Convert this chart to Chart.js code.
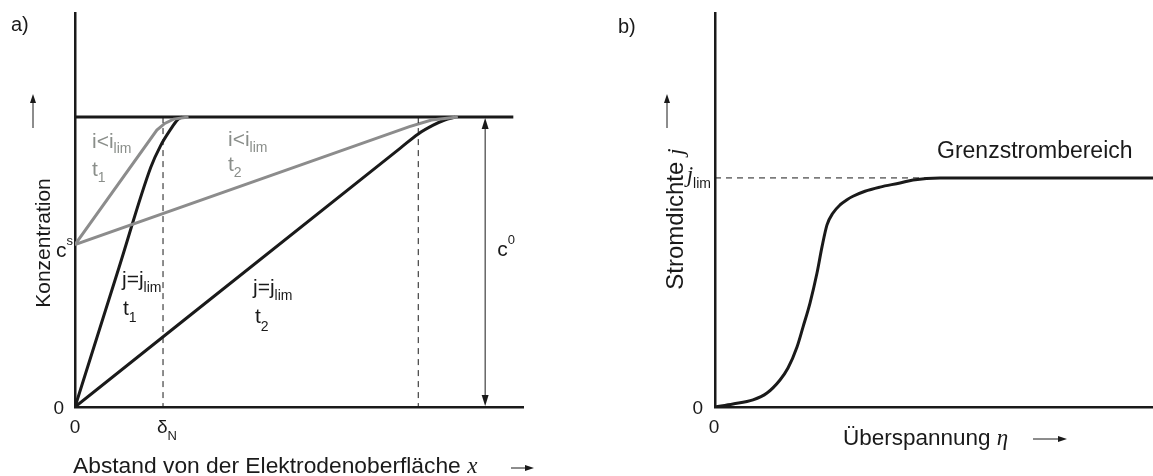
<!DOCTYPE html>
<html>
<head>
<meta charset="utf-8">
<script src="https://cdn.jsdelivr.net/npm/chart.js@4.4.0/dist/chart.umd.min.js"></script>
<style>
  html, body { margin: 0; padding: 0; background: #fff; }
  #wrap { position: relative; width: 1153px; height: 476px; overflow: hidden; }
  #left { position: absolute; left: 0; top: 0; }
  #right { position: absolute; left: 600px; top: 0; }
</style>
</head>
<body>
<div id="wrap">
  <canvas id="left" width="600" height="476"></canvas>
  <canvas id="right" width="553" height="476"></canvas>
</div>
<script>
// ---- panel a) concentration profiles (x in units of delta_N, c in units of c0)
const cBulk = 1.0;
const cSurface = 0.56;
const deltaN = 1.0;
const deltaT2 = 3.9;
const xMaxA = 5.09;
const yMaxA = 1.359;
const bulkEnd = 4.98;
const c0Marker = 4.66;

// j = j_lim at t1 and t2 (black)
const limT1 = [[0, 0], [0.5, 0.481], [0.86, 0.826], [0.97, 0.9], [1.08, 0.955], [1.17, 0.992], [1.22, 1.0]];
const limT2 = [[0, 0], [3.7, 0.894], [3.9, 0.942], [4.07, 0.972], [4.2, 0.99], [4.32, 1.0]];
// i < i_lim at t1 and t2 (grey)
const subT1 = [[0, 0.56], [0.93, 0.955], [1.02, 0.978], [1.12, 0.993], [1.29, 1.0]];
const subT2 = [[0, 0.56], [3.8, 0.967], [4.05, 0.99], [4.35, 1.0]];

// ---- panel b) current density vs overpotential (j in units of j_lim)
const eta = [0, 0.36, 0.76, 1.04, 1.3, 1.46, 1.64, 1.76, 1.9, 2.04, 2.14, 2.24, 2.36, 2.5, 2.64, 2.76, 3.0, 3.3, 3.7, 3.96, 4.5, 8.76];
const jRel = [0, 0.013, 0.031, 0.061, 0.118, 0.17, 0.262, 0.349, 0.454, 0.585, 0.699, 0.795, 0.847, 0.882, 0.905, 0.92, 0.942, 0.96, 0.978, 0.991, 1.0, 1.0];
const jLim = 1.0;
const jLimDashEnd = 4.5;
const xMaxB = 8.76;
const yMaxB = 1.72;

const ink = "#1a1a1a";
const grey = "#8c8c8c";
const greyText = "#8a8e8a";
const sans = '"Liberation Sans", Arial, sans-serif';
const serif = '"Liberation Serif", "Times New Roman", serif';

function pts(list) {
  return list.map((p) => ({ x: p[0], y: p[1] }));
}

function curve(data, color, width, dash, smooth) {
  return {
    data: data,
    borderColor: color,
    borderWidth: width,
    borderDash: dash || [],
    pointRadius: 0,
    fill: false,
    cubicInterpolationMode: smooth ? "monotone" : "default",
    tension: 0,
  };
}

// draw a row of text pieces (for sub/superscripts)
function runs(ctx, x, y, parts, align) {
  let total = 0;
  parts.forEach((p) => {
    ctx.font = p.font;
    total += ctx.measureText(p.t).width;
  });
  let cx = x;
  if (align === "right") cx = x - total;
  if (align === "center") cx = x - total / 2;
  ctx.textAlign = "left";
  ctx.textBaseline = "alphabetic";
  parts.forEach((p) => {
    ctx.font = p.font;
    ctx.fillStyle = p.color || ink;
    ctx.fillText(p.t, cx, y + (p.dy || 0));
    cx += ctx.measureText(p.t).width;
  });
}

function arrowHead(ctx, x, y, dx, dy, len, half) {
  // tip at x,y pointing in direction dx,dy
  const px = -dy, py = dx;
  ctx.beginPath();
  ctx.moveTo(x, y);
  ctx.lineTo(x - dx * len + px * half, y - dy * len + py * half);
  ctx.lineTo(x - dx * len - px * half, y - dy * len - py * half);
  ctx.closePath();
  ctx.fill();
}

function arrow(ctx, x1, y1, x2, y2) {
  const l = Math.hypot(x2 - x1, y2 - y1);
  const dx = (x2 - x1) / l, dy = (y2 - y1) / l;
  ctx.beginPath();
  ctx.moveTo(x1, y1);
  ctx.lineTo(x2 - dx * 4, y2 - dy * 4);
  ctx.stroke();
  arrowHead(ctx, x2, y2, dx, dy, 9, 3);
}

function f(size, style) {
  return (style ? style + " " : "") + size + "px " + sans;
}

function drawPanelA(chart) {
  const ctx = chart.ctx, xs = chart.scales.x, ys = chart.scales.y;
  const area = chart.chartArea;
  ctx.save();
  ctx.strokeStyle = ink;
  ctx.fillStyle = ink;

  // c0 dimension arrow
  const xa = xs.getPixelForValue(c0Marker);
  const yTop = ys.getPixelForValue(cBulk), yBot = ys.getPixelForValue(0);
  ctx.lineWidth = 1;
  ctx.beginPath();
  ctx.moveTo(xa, yTop + 6);
  ctx.lineTo(xa, yBot - 6);
  ctx.stroke();
  arrowHead(ctx, xa, yTop + 1, 0, -1, 11, 3.5);
  arrowHead(ctx, xa, yBot - 1, 0, 1, 11, 3.5);
  runs(ctx, xa + 12, ys.getPixelForValue(0.52), [
    { t: "c", font: f(21) },
    { t: "0", font: f(13), dy: -12 },
  ]);

  // panel letter and axis arrows
  runs(ctx, 11, 31, [{ t: "a)", font: f(20) }]);
  ctx.lineWidth = 1;
  arrow(ctx, 33, 128, 33, 94);
  arrow(ctx, 511, 468, 534, 468);

  // y title
  ctx.save();
  ctx.translate(50, 243);
  ctx.rotate(-Math.PI / 2);
  runs(ctx, 0, 0, [{ t: "Konzentration", font: f(21) }], "center");
  ctx.restore();

  // x title
  runs(ctx, 73, 473, [
    { t: "Abstand von der Elektrodenoberfläche ", font: f(22.8) },
    { t: "x", font: "italic 23px " + serif },
  ]);

  // tick labels
  const left = area.left;
  runs(ctx, left - 11, ys.getPixelForValue(0) + 7, [{ t: "0", font: f(19) }], "right");
  runs(ctx, left - 2, ys.getPixelForValue(cSurface) + 12, [
    { t: "c", font: f(21) },
    { t: "s", font: f(13), dy: -12 },
  ], "right");
  runs(ctx, xs.getPixelForValue(0), 433, [{ t: "0", font: f(19) }], "center");
  runs(ctx, xs.getPixelForValue(deltaN) + 4, 433, [
    { t: "δ", font: f(19) },
    { t: "N", font: f(13), dy: 7 },
  ], "center");

  // curve labels
  const g = greyText;
  runs(ctx, 92, 148, [
    { t: "i<i", font: f(21), color: g },
    { t: "lim", font: f(14), dy: 5, color: g },
  ]);
  runs(ctx, 92, 176, [
    { t: "t", font: f(21), color: g },
    { t: "1", font: f(14), dy: 6, color: g },
  ]);
  runs(ctx, 228, 146, [
    { t: "i<i", font: f(21), color: g },
    { t: "lim", font: f(14), dy: 6, color: g },
  ]);
  runs(ctx, 228, 171, [
    { t: "t", font: f(21), color: g },
    { t: "2", font: f(14), dy: 6, color: g },
  ]);
  runs(ctx, 122, 286, [
    { t: "j=j", font: f(21) },
    { t: "lim", font: f(14), dy: 6 },
  ]);
  runs(ctx, 123, 315, [
    { t: "t", font: f(21) },
    { t: "1", font: f(14), dy: 7 },
  ]);
  runs(ctx, 253, 294, [
    { t: "j=j", font: f(21) },
    { t: "lim", font: f(14), dy: 6 },
  ]);
  runs(ctx, 255, 323, [
    { t: "t", font: f(21) },
    { t: "2", font: f(14), dy: 8 },
  ]);
  ctx.restore();
}

function drawPanelB(chart) {
  const ctx = chart.ctx, xs = chart.scales.x, ys = chart.scales.y;
  const area = chart.chartArea;
  ctx.save();
  ctx.strokeStyle = ink;
  ctx.fillStyle = ink;

  runs(ctx, 18, 33, [{ t: "b)", font: f(20) }]);
  ctx.lineWidth = 1;
  arrow(ctx, 67, 128, 67, 94);
  arrow(ctx, 433, 439, 467, 439);

  // y title
  ctx.save();
  ctx.translate(83, 219);
  ctx.rotate(-Math.PI / 2);
  runs(ctx, 0, 0, [
    { t: "Stromdichte ", font: f(24) },
    { t: "j", font: "italic 24px " + serif },
  ], "center");
  ctx.restore();

  // x title
  runs(ctx, 243, 445, [
    { t: "Überspannung ", font: f(22.5) },
    { t: "η", font: "italic 23px " + serif },
  ]);

  // ticks
  const left = area.left;
  runs(ctx, left - 12, ys.getPixelForValue(0) + 7, [{ t: "0", font: f(19) }], "right");
  runs(ctx, left - 4, ys.getPixelForValue(jLim) + 4, [
    { t: "j", font: "italic 23px " + serif },
    { t: "lim", font: f(14), dy: 6 },
  ], "right");
  runs(ctx, xs.getPixelForValue(0) - 1, 433, [{ t: "0", font: f(19) }], "center");

  runs(ctx, 337, 158, [{ t: "Grenzstrombereich", font: f(23) }]);
  ctx.restore();
}

function axisOpts(max) {
  return {
    type: "linear",
    min: 0,
    max: max,
    grid: { display: false, drawTicks: false },
    ticks: { display: false },
    border: { display: true, color: ink, width: 2.5 },
  };
}

function panel(canvasId, datasets, xMax, yMax, padding, drawFn, id) {
  return new Chart(document.getElementById(canvasId), {
    type: "line",
    data: { datasets: datasets },
    options: {
      responsive: false,
      animation: false,
      events: [],
      layout: { padding: padding },
      plugins: { legend: { display: false }, tooltip: { enabled: false } },
      scales: { x: axisOpts(xMax), y: axisOpts(yMax) },
    },
    plugins: [{ id: id, afterDraw: drawFn }],
  });
}

// panel a)
panel("left", [
  curve(pts([[deltaN, cBulk], [deltaN, 0]]), ink, 1, [6, 5]),
  curve(pts([[deltaT2, cBulk], [deltaT2, 0]]), ink, 1, [6, 5]),
  curve(pts(subT1), grey, 3),
  curve(pts(subT2), grey, 3),
  curve(pts(limT1), ink, 3, null, true),
  curve(pts(limT2), ink, 3, null, true),
  curve(pts([[0, cBulk], [bulkEnd, cBulk]]), ink, 3),
], xMaxA, yMaxA, { left: 75, top: 13, right: 77, bottom: 69 }, drawPanelA, "notesA");

// panel b)
panel("right", [
  curve(pts([[0, jLim], [jLimDashEnd, jLim]]), ink, 1, [6, 5]),
  curve(eta.map((x, i) => ({ x: x, y: jRel[i] })), ink, 3, null, true),
], xMaxB, yMaxB, { left: 115, top: 13, right: 0, bottom: 69 }, drawPanelB, "notesB");
</script>
</body>
</html>
